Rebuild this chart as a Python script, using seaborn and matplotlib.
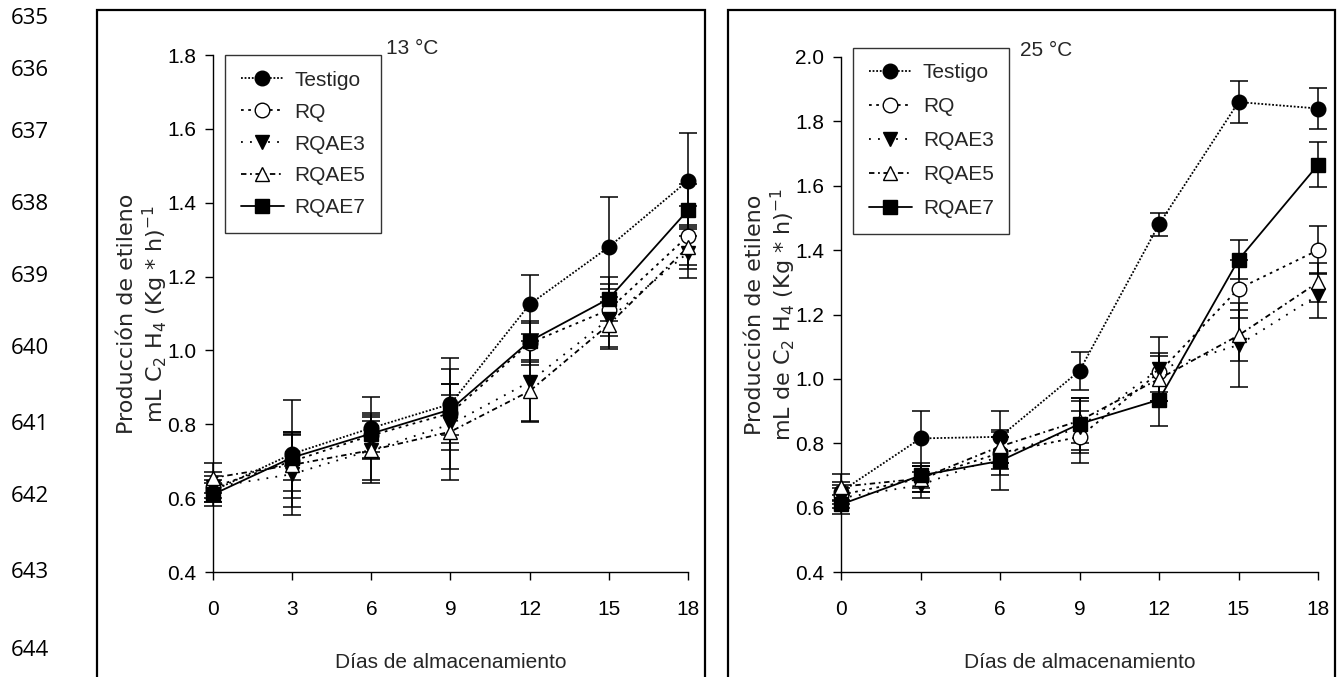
import numpy as np
import pandas as pd
import matplotlib
matplotlib.use("Agg")
import matplotlib.pyplot as plt
from matplotlib.patches import Rectangle
from matplotlib.lines import Line2D
import seaborn as sns

# ---------------- data ----------------
days = [0, 3, 6, 9, 12, 15, 18]
series = ["Testigo", "RQ", "RQAE3", "RQAE5", "RQAE7"]

# 13 °C
t13_testigo = [0.62, 0.72, 0.79, 0.855, 1.125, 1.28, 1.46]
t13_rq      = [0.63, 0.70, 0.77, 0.83, 1.02, 1.11, 1.31]
t13_rqae3   = [0.63, 0.665, 0.73, 0.80, 0.915, 1.085, 1.265]
t13_rqae5   = [0.655, 0.69, 0.73, 0.78, 0.89, 1.07, 1.28]
t13_rqae7   = [0.61, 0.71, 0.775, 0.84, 1.025, 1.14, 1.38]
e13_testigo = [0.03, 0.145, 0.085, 0.125, 0.08, 0.135, 0.13]
e13_rq      = [0.03, 0.08, 0.06, 0.08, 0.06, 0.07, 0.08]
e13_rqae3   = [0.04, 0.11, 0.08, 0.15, 0.11, 0.08, 0.07]
e13_rqae5   = [0.04, 0.09, 0.09, 0.10, 0.08, 0.06, 0.06]
e13_rqae7   = [0.03, 0.06, 0.05, 0.07, 0.05, 0.06, 0.07]

# 25 °C
t25_testigo = [0.65, 0.815, 0.82, 1.025, 1.48, 1.86, 1.84]
t25_rq      = [0.64, 0.69, 0.77, 0.82, 1.02, 1.28, 1.40]
t25_rqae3   = [0.63, 0.67, 0.76, 0.85, 1.03, 1.105, 1.26]
t25_rqae5   = [0.665, 0.69, 0.79, 0.87, 1.00, 1.135, 1.30]
t25_rqae7   = [0.61, 0.70, 0.745, 0.86, 0.935, 1.37, 1.665]
e25_testigo = [0.03, 0.085, 0.08, 0.06, 0.035, 0.065, 0.065]
e25_rq      = [0.03, 0.04, 0.05, 0.08, 0.06, 0.09, 0.075]
e25_rqae3   = [0.03, 0.04, 0.06, 0.08, 0.10, 0.13, 0.07]
e25_rqae5   = [0.04, 0.04, 0.05, 0.07, 0.07, 0.08, 0.06]
e25_rqae7   = [0.03, 0.04, 0.09, 0.08, 0.08, 0.06, 0.07]

line_numbers = ["635", "636", "637", "638", "639", "640", "641", "642", "643", "644"]
xticks = [0, 3, 6, 9, 12, 15, 18]
yticks13 = [0.4, 0.6, 0.8, 1.0, 1.2, 1.4, 1.6, 1.8]
yticks25 = [0.4, 0.6, 0.8, 1.0, 1.2, 1.4, 1.6, 1.8, 2.0]

# ---------------- style ----------------
sns.set_theme(style="ticks")
plt.rcParams["font.family"] = ["Liberation Sans", "DejaVu Sans"]

styles = {
    "Testigo": dict(marker="o", mfc="black", ls=(0, (1, 1)), ms=10.5),
    "RQ":      dict(marker="o", mfc="white", ls=(0, (1.5, 2.5)), ms=10.5),
    "RQAE3":   dict(marker="v", mfc="black", ls=(0, (1, 4)), ms=10.5),
    "RQAE5":   dict(marker="^", mfc="white", ls=(0, (3, 2, 1, 2)), ms=10.5),
    "RQAE7":   dict(marker="s", mfc="black", ls="-", ms=9.5),
}

fig = plt.figure(figsize=(13.39, 6.77), dpi=100)

# page line numbers
ys_ln = [18, 70, 133, 205, 277, 349, 424, 497, 572, 650]
for t, yy in zip(line_numbers, ys_ln):
    fig.text(11 / 1339, 1 - yy / 677, t, fontsize=16, family=["Open Sans", "DejaVu Sans"],
             va="center", ha="left", color="black")

# panel boxes
for x0, x1 in [(97, 705), (728, 1335)]:
    fig.add_artist(Rectangle((x0 / 1339, -0.02), (x1 - x0) / 1339, 1.02 - 10 / 677,
                             transform=fig.transFigure, fill=False, lw=1.6,
                             edgecolor="black", zorder=0))

ax1 = fig.add_axes([213 / 1339, 1 - 572 / 677, 475 / 1339, (572 - 55) / 677])
ax2 = fig.add_axes([841 / 1339, 1 - 572 / 677, 477 / 1339, (572 - 57) / 677])

panels = [
    (ax1, [t13_testigo, t13_rq, t13_rqae3, t13_rqae5, t13_rqae7],
     [e13_testigo, e13_rq, e13_rqae3, e13_rqae5, e13_rqae7], (0.4, 1.8), yticks13,
     "13 °C", 0.42, "Producción de etileno\nmL C$_2$ H$_4$ (Kg * h)$^{-1}$", (0.012, 1.012), 0.62),
    (ax2, [t25_testigo, t25_rq, t25_rqae3, t25_rqae5, t25_rqae7],
     [e25_testigo, e25_rq, e25_rqae3, e25_rqae5, e25_rqae7], (0.4, 2.0), yticks25,
     "25 °C", 0.43, "Producción de etileno\nmL de C$_2$ H$_4$ (Kg * h)$^{-1}$", (0.012, 1.03), 0.72),
]

for ax, vals, errs, ylim, yt, title, tx, ylabel, lanchor, lspace in panels:
    handles = []
    for name, v, e in zip(series, vals, errs):
        st = styles[name]
        ax.errorbar(days, v, yerr=e, fmt="none", ecolor="black", elinewidth=1.1,
                    capsize=6.5, capthick=1.1, zorder=2, clip_on=False)
        df = pd.DataFrame({"d": days, "v": v})
        sns.lineplot(data=df, x="d", y="v", ax=ax, color="black", lw=1.3,
                     marker=st["marker"], markersize=st["ms"], markerfacecolor=st["mfc"],
                     markeredgecolor="black", markeredgewidth=1.0, legend=False,
                     zorder=3, clip_on=False)
        ln = ax.get_lines()[-1]
        ln.set_linestyle(st["ls"])
        handles.append(Line2D([], [], color="black", lw=1.3, ls=st["ls"],
                              marker=st["marker"], ms=st["ms"], mfc=st["mfc"], mec="black"))
    ax.set_xlim(0, 18)
    ax.set_ylim(*ylim)
    ax.set_xticks(xticks)
    ax.set_yticks(yt)
    ax.set_yticklabels([f"{t:.1f}" for t in yt])
    ax.tick_params(direction="out", length=6, width=1, labelsize=15, colors="black")
    ax.tick_params(axis="x", pad=14)
    ax.tick_params(axis="y", pad=6)
    sns.despine(ax=ax)
    for sp in ("left", "bottom"):
        ax.spines[sp].set_color("black")
        ax.spines[sp].set_linewidth(1.0)
    ax.set_xlabel("Días de almacenamiento", fontsize=15, labelpad=25)
    ax.set_ylabel(ylabel, fontsize=16, family=["DejaVu Sans"], labelpad=-2, linespacing=1.15)
    ax.text(tx, 1.012, title, transform=ax.transAxes, fontsize=15,
            ha="center", va="center")
    leg = ax.legend(handles, series, loc="upper left", bbox_to_anchor=lanchor,
                    frameon=True, fancybox=False, edgecolor="black",
                    handlelength=2.1, handletextpad=0.5, borderpad=0.75, labelspacing=lspace,
                    borderaxespad=0.3, prop={"size": 15})
    leg.get_frame().set_linewidth(1.0)
    ax.set_facecolor("white")

fig.savefig("out.png", dpi=100, facecolor="white")
